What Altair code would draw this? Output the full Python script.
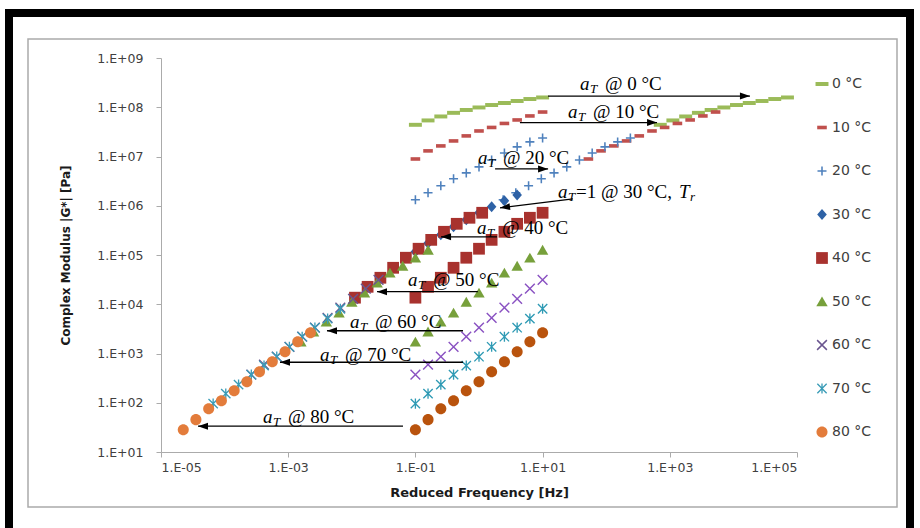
import json
import math

import altair as alt
import pandas as pd

# ---------------------------------------------------------------------------
# Measured |G*| at each test temperature (frequency sweep 0.1 - 10 Hz)
# ---------------------------------------------------------------------------
TEMPS_C = [0, 10, 20, 30, 40, 50, 60, 70, 80]
FREQ_HZ = [0.1, 0.158, 0.251, 0.398, 0.631, 1.0, 1.58, 2.51, 3.98, 6.31, 10.0]

G_0C = [4.4e7, 5.4e7, 6.5e7, 7.7e7, 8.8e7, 9.9e7, 1.11e8, 1.22e8, 1.34e8, 1.47e8, 1.58e8]
G_10C = [8.9e6, 1.3e7, 1.64e7, 2.07e7, 2.62e7, 3.3e7, 3.89e7, 4.69e7, 5.52e7, 6.66e7, 8.0e7]
G_20C = [1.32e6, 1.83e6, 2.54e6, 3.52e6, 4.65e6, 6.15e6, 8.5e6, 1.18e7, 1.57e7, 1.98e7, 2.38e7]
G_30C = [1.16e5, 1.73e5, 2.57e5, 3.73e5, 5.2e5, 7.2e5, 9.5e5, 1.26e6, 1.66e6]
G_40C = [1.36e4, 2.26e4, 3.45e4, 5.5e4, 8.8e4, 1.34e5, 2.03e5, 2.96e5, 4.3e5, 5.7e5, 7.2e5]
G_50C = [1.73e3, 2.77e3, 4.4e3, 6.7e3, 1.12e4, 1.71e4, 2.73e4, 4.35e4, 6.0e4, 8.8e4, 1.27e5]
G_60C = [372, 593, 861, 1.37e3, 2.19e3, 3.34e3, 5.3e3, 8.5e3, 1.29e4, 2.07e4, 3.14e4]
G_70C = [96, 153, 233, 372, 566, 861, 1.37e3, 2.19e3, 3.34e3, 5.1e3, 8.1e3]
G_80C = [28.4, 45.4, 75.9, 110, 176, 268, 427, 682, 1.09e3, 1.73e3, 2.64e3]
MODULUS = [G_0C, G_10C, G_20C, G_30C, G_40C, G_50C, G_60C, G_70C, G_80C]

# log10 of the shift factor a_T (reference temperature 30 °C)
LOG_SHIFT = [3.85, 2.72, 1.38, 0.0, -0.95, -1.8, -2.58, -3.18, -3.65]

# Shift-factor annotations
LABEL_FREQ = [38.7, 25.1, 0.964, 17.5, 0.93, 0.0766, 0.00938, 0.00316, 4.02e-4]
LABEL_G = [2.97e8, 8.04e7, 9.37e6, 1.91e6, 3.57e5, 3.14e4, 4.42e3, 946, 52.3]
LABEL_REST = ["@ 0 °C", "@ 10 °C", "@ 20 °C", "=1 @ 30 °C,", "@ 40 °C",
              "@ 50 °C", "@ 60 °C", "@ 70 °C", "@ 80 °C"]
ARROW_FROM_FREQ = [12.2, 4.4, 1.79, 30.0, 1.92, 0.96, 0.56, 0.56, 0.0638]
ARROW_TO_FREQ = [1.82e4, 630, 12.2, 2.14, 0.253, 0.0249, 0.00407, 7.43e-4, 3.82e-5]
ARROW_FROM_G = [1.69e8, 4.88e7, 5.6e6, 1.38e6, 2.34e5, 1.8e4, 2.9e3, 665, 33.5]
ARROW_TO_G = [1.69e8, 4.88e7, 5.6e6, 9.06e5, 2.34e5, 1.8e4, 2.9e3, 665, 33.5]

X_TICKS = [1e-5, 1e-3, 1e-1, 1e1, 1e3, 1e5]
X_TICK_LABELS = ["1.E-05", "1.E-03", "1.E-01", "1.E+01", "1.E+03", "1.E+05"]
Y_TICKS = [1e1, 1e2, 1e3, 1e4, 1e5, 1e6, 1e7, 1e8, 1e9]
Y_TICK_LABELS = ["1.E+01", "1.E+02", "1.E+03", "1.E+04", "1.E+05",
                 "1.E+06", "1.E+07", "1.E+08", "1.E+09"]

MASTER_COLORS = ["#9BBB59", "#C0504D", "#4F81BD", "#2E62A6", "#A8322E",
                 "#77A03B", "#6A558F", "#3A9CB7", "#E37C3B"]
MEASURED_COLORS = ["#9BBB59", "#C0504D", "#4F81BD", "#2E62A6", "#A8322E",
                   "#77A03B", "#8A52C2", "#2E9AB4", "#B9530D"]

# ---------------------------------------------------------------------------
# Layout (page pixels)
# ---------------------------------------------------------------------------
PAGE_W, PAGE_H = 920, 528
PLOT_L, PLOT_T, PLOT_R, PLOT_B = 161, 58, 797, 452
W, H = PLOT_R - PLOT_L, PLOT_B - PLOT_T
SANS = "DejaVu Sans"
SERIF = "Liberation Serif"
NOTE_SIZE = 19
SUB_SIZE = 13


# ---------------------------------------------------------------------------
# Marker outlines (unit box, scaled by sqrt(size)/2)
# ---------------------------------------------------------------------------
def poly(pts):
    return "M" + "L".join(f"{x:.3f},{y:.3f}" for x, y in pts) + "Z"


def box(hw, hh):
    return poly([(-hw, -hh), (hw, -hh), (hw, hh), (-hw, hh)])


def bar(angle_deg, half_len, half_w):
    a = math.radians(angle_deg)
    ux, uy = math.cos(a), math.sin(a)
    nx, ny = -uy, ux
    return poly([
        (half_len * ux + half_w * nx, half_len * uy + half_w * ny),
        (-half_len * ux + half_w * nx, -half_len * uy + half_w * ny),
        (-half_len * ux - half_w * nx, -half_len * uy - half_w * ny),
        (half_len * ux - half_w * nx, half_len * uy - half_w * ny),
    ])


def disc(r):
    return f"M{-r},0A{r},{r} 0 1,0 {r},0A{r},{r} 0 1,0 {-r},0Z"


SHAPES = [
    box(1.08, 0.33),                                   # long dash
    box(0.80, 0.30),                                   # short dash
    bar(0, 0.75, 0.13) + bar(90, 0.75, 0.13),          # plus
    poly([(0, -0.92), (0.8, 0), (0, 0.92), (-0.8, 0)]),  # diamond
    box(0.98, 0.98),                                   # square
    poly([(0, -0.85), (0.95, 0.8), (-0.95, 0.8)]),     # triangle
    bar(45, 1.15, 0.12) + bar(135, 1.15, 0.12),        # cross
    bar(45, 1.1, 0.11) + bar(135, 1.1, 0.11) + bar(90, 0.85, 0.11),  # asterisk
    disc(0.92),                                        # circle
]
ARROW_HEAD = "M0,0L-2,-0.7L-2,0.7Z"

# ---------------------------------------------------------------------------
# Tables
# ---------------------------------------------------------------------------
master_labels = [f"{t} °C" for t in TEMPS_C]
measured_labels = [f"{t} °C measured" for t in TEMPS_C]

rows = []
for i, t in enumerate(TEMPS_C):
    if LOG_SHIFT[i] == 0.0:
        continue  # reference temperature: measured data is the master curve
    for f, g in zip(FREQ_HZ, MODULUS[i]):
        rows.append({"series": measured_labels[i], "freq": f, "g": g})
for i, t in enumerate(TEMPS_C):
    a_t = 10 ** LOG_SHIFT[i]
    for f, g in zip(FREQ_HZ, MODULUS[i]):
        rows.append({"series": master_labels[i], "freq": f * a_t, "g": g})
points_df = pd.DataFrame(rows)


def heading(f1, g1, f2, g2):
    dx = (math.log10(f2) - math.log10(f1)) * W / 10
    dy = -(math.log10(g2) - math.log10(g1)) * H / 8
    return math.degrees(math.atan2(dy, dx)) % 360


arrows_df = pd.DataFrame({
    "f1": ARROW_FROM_FREQ, "f2": ARROW_TO_FREQ,
    "g1": ARROW_FROM_G, "g2": ARROW_TO_G,
    "angle": [heading(a, b, c, d) for a, b, c, d in
              zip(ARROW_FROM_FREQ, ARROW_FROM_G, ARROW_TO_FREQ, ARROW_TO_G)],
})
labels_df = pd.DataFrame({"temp": TEMPS_C, "freq": LABEL_FREQ, "g": LABEL_G,
                          "rest": LABEL_REST})
REF_TEMP = TEMPS_C[LOG_SHIFT.index(0.0)]
other_df = labels_df[labels_df["temp"] != REF_TEMP]
ref_df = labels_df[labels_df["temp"] == REF_TEMP]

# ---------------------------------------------------------------------------
# Scales / axes
# ---------------------------------------------------------------------------
XS = alt.Scale(type="log", domain=[X_TICKS[0], X_TICKS[-1]], nice=False)
YS = alt.Scale(type="log", domain=[Y_TICKS[0], Y_TICKS[-1]], nice=False)


def tick_expr(values, labels):
    return f"{json.dumps(labels, ensure_ascii=False)}[indexof({json.dumps(values)}, datum.value)]"


X_AXIS = alt.Axis(values=X_TICKS, labelExpr=tick_expr(X_TICKS, X_TICK_LABELS),
                  title="Reduced Frequency [Hz]", labelPadding=4, titlePadding=13,
                  titleFontSize=13)
Y_AXIS = alt.Axis(values=Y_TICKS, labelExpr=tick_expr(Y_TICKS, Y_TICK_LABELS),
                  title="Complex Modulus |G*| [Pa]", labelPadding=13, titlePadding=24,
                  titleFontSize=12)


def xenc(field):
    return alt.X(f"{field}:Q", scale=XS, axis=X_AXIS)


def yenc(field):
    return alt.Y(f"{field}:Q", scale=YS, axis=Y_AXIS)


legend = alt.Legend(title=None, values=master_labels, orient="none",
                    legendX=654, legendY=19)
color_scale = alt.Scale(domain=master_labels + measured_labels,
                        range=MASTER_COLORS + MEASURED_COLORS)
shape_scale = alt.Scale(domain=master_labels + measured_labels,
                        range=SHAPES + SHAPES)

# ---------------------------------------------------------------------------
# Layers
# ---------------------------------------------------------------------------
one = pd.DataFrame({"k": [0]})

outer_frame = alt.Chart(one).mark_rect(
    fill="white", fillOpacity=0, stroke="black", strokeWidth=8
).encode(
    x=alt.value(9 - PLOT_L), x2=alt.value(910 - PLOT_L),
    y=alt.value(13 - PLOT_T), y2=alt.value(PAGE_H + 12 - PLOT_T),
)
chart_border = alt.Chart(one).mark_rect(
    fill="white", fillOpacity=0, stroke="#ABABAB", strokeWidth=1.5
).encode(
    x=alt.value(28 - PLOT_L), x2=alt.value(897 - PLOT_L),
    y=alt.value(39 - PLOT_T), y2=alt.value(507 - PLOT_T),
)

points = alt.Chart(points_df).mark_point(
    filled=True, size=144, opacity=1, strokeWidth=0
).encode(
    x=xenc("freq"),
    y=yenc("g"),
    color=alt.Color("series:N", scale=color_scale, legend=legend),
    shape=alt.Shape("series:N", scale=shape_scale, legend=legend),
)

arrow_lines = alt.Chart(arrows_df).mark_rule(color="black", strokeWidth=1.3).encode(
    x=xenc("f1"), x2="f2", y=yenc("g1"), y2="g2"
)
arrow_heads = alt.Chart(arrows_df).mark_point(
    shape=ARROW_HEAD, filled=True, size=100, color="black", opacity=1, strokeWidth=0
).encode(
    x=xenc("f2"), y=yenc("g2"), angle=alt.Angle("angle:Q", scale=None)
)

# "a_T" prefix shared by every label
text_base = alt.Chart(labels_df).encode(x=xenc("freq"), y=yenc("g"))
sym_a = text_base.mark_text(text="a", font=SERIF, fontStyle="italic", fontSize=NOTE_SIZE,
                            align="left", baseline="middle", color="black")
sym_t = text_base.mark_text(text="T", font=SERIF, fontStyle="italic", fontSize=SUB_SIZE,
                            align="left", baseline="middle", dx=10, dy=5, color="black")

# "@ .. °C" after a word gap
rest = alt.Chart(other_df).mark_text(
    font=SERIF, fontSize=NOTE_SIZE, align="left", baseline="middle", dx=25, color="black"
).encode(x=xenc("freq"), y=yenc("g"), text="rest:N")

# reference label: "=1 @ 30 °C, T_r"
ref_base = alt.Chart(ref_df).encode(x=xenc("freq"), y=yenc("g"))
ref_rest = ref_base.mark_text(font=SERIF, fontSize=NOTE_SIZE, align="left",
                              baseline="middle", dx=18, color="black").encode(text="rest:N")
ref_t = ref_base.mark_text(text="T", font=SERIF, fontStyle="italic", fontSize=NOTE_SIZE,
                           align="left", baseline="middle", dx=121, color="black")
ref_r = ref_base.mark_text(text="r", font=SERIF, fontStyle="italic", fontSize=SUB_SIZE,
                           align="left", baseline="middle", dx=132, dy=5, color="black")

chart = alt.layer(
    outer_frame, chart_border, points, arrow_lines, arrow_heads,
    sym_a, sym_t, rest, ref_rest, ref_t, ref_r,
).properties(
    width=W,
    height=H,
    padding={"left": PLOT_L, "top": PLOT_T, "right": PAGE_W - PLOT_R, "bottom": PAGE_H - PLOT_B},
    autosize=alt.AutoSizeParams(type="none"),
    background="white",
).configure_view(
    strokeWidth=0
).configure_axis(
    grid=False,
    labelFont=SANS,
    labelFontSize=12.5,
    labelColor="#404040",
    domainColor="#ABABAB",
    tickColor="#ABABAB",
    tickSize=5,
    titleFont=SANS,
    titleFontWeight="bold",
    titleColor="#1A1A1A",
).configure_legend(
    labelFont=SANS,
    labelFontSize=14,
    labelColor="#404040",
    symbolSize=144,
    symbolStrokeWidth=0,
    rowPadding=29.5,
    labelOffset=3,
    padding=0,
)

chart.save("out.html", embed_options={"renderer": "svg", "actions": False})
